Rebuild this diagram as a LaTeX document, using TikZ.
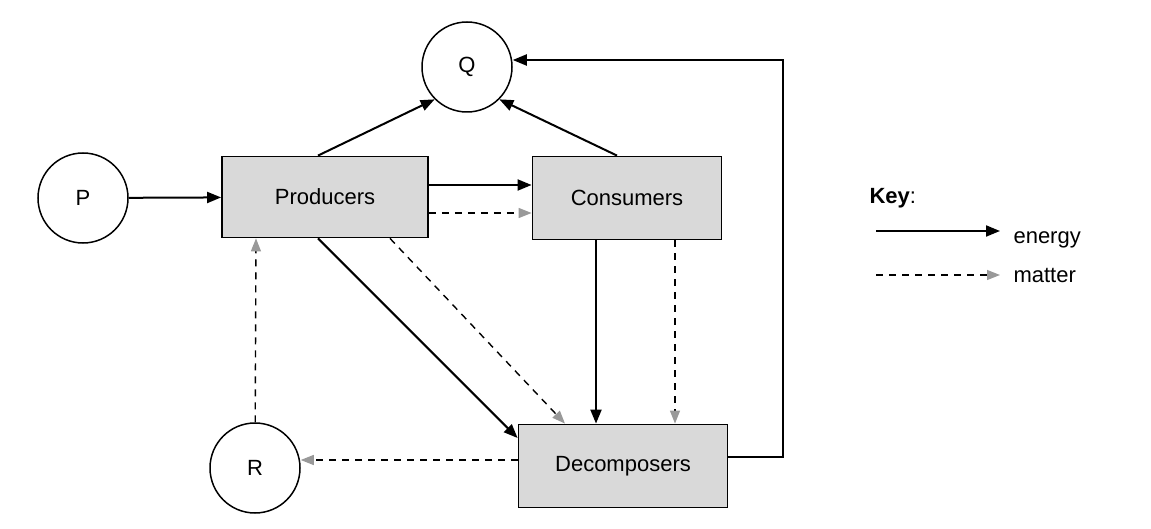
\documentclass[tikz,border=0pt]{standalone}
\usepackage{fontspec}
\setmainfont{Liberation Sans}
\usetikzlibrary{arrows.meta}
\begin{document}
\begin{tikzpicture}[x=1pt,y=-1pt,
  font=\fontsize{22}{26}\selectfont,
  box/.style={draw,line width=1.8pt,fill=gray!30,minimum width=206pt,minimum height=81pt},
  circ/.style={draw,line width=1.5pt,circle,minimum size=90pt,inner sep=0},
  en/.style={line width=2pt,-{Triangle[length=14pt,width=11pt]}},
  ma/.style={line width=1.4pt,dash pattern=on 7pt off 6pt,-{Triangle[length=13pt,width=10pt,color=gray!80,fill=gray!80]}}]
\useasboundingbox (0,0) rectangle (1151,529);
\node[circ] (Q) at (467,67) {Q};
\node[circ] (P) at (83,198) {P};
\node[circ] (R) at (255,468) {R};
\node[box] (Pr) at (325,197) {Producers};
\node[box,minimum width=189pt,minimum height=83pt] (C) at (627,198) {Consumers};
\node[box,minimum width=209pt,minimum height=83pt] (D) at (623,466) {Decomposers};
\draw[en] (P) -- (Pr);
\draw[en] (Pr.north -| 318,0) -- (Q.225);
\draw[en] (C.north -| 617,0) -- (Q.315);
\draw[en] ([yshift=12pt]Pr.east) -- ([yshift=13pt]C.west);
\draw[ma] ([yshift=-16pt]Pr.east) -- ([yshift=-15pt]C.west);
\draw[en] (Pr.south -| 318,0) -- (D.north west |- 0,438);
\draw[ma] (Pr.south -| 390,0) -- (D.north -| 565,0);
\draw[en] (C.south -| 596,0) -- (D.north -| 596,0);
\draw[ma] (C.south -| 675,0) -- (D.north -| 675,0);
\draw[ma] (D.west |- 0,460) -- (R.east |- 0,460);
\draw[ma] (R) -- (Pr.south -| 256,0);
\coordinate (c1) at (783,457);
\coordinate (c2) at (783,60);
\draw[en] (D.east |- c1) -- (c1) -- (c2) -- (Q.east |- c2);
\node[anchor=west] (key) at (866,198) {\textbf{Key}:};
\coordinate (k1) at (876,231); \coordinate (k2) at (1000,231);
\coordinate (k3) at (876,275); \coordinate (k4) at (1000,275);
\draw[en] (k1) -- (k2);
\draw[ma] (k3) -- (k4);
\node[anchor=west] (le) at (1010,240) {energy};
\node[anchor=west] (lm) at (1010,275) {matter};
\end{tikzpicture}
\end{document}
